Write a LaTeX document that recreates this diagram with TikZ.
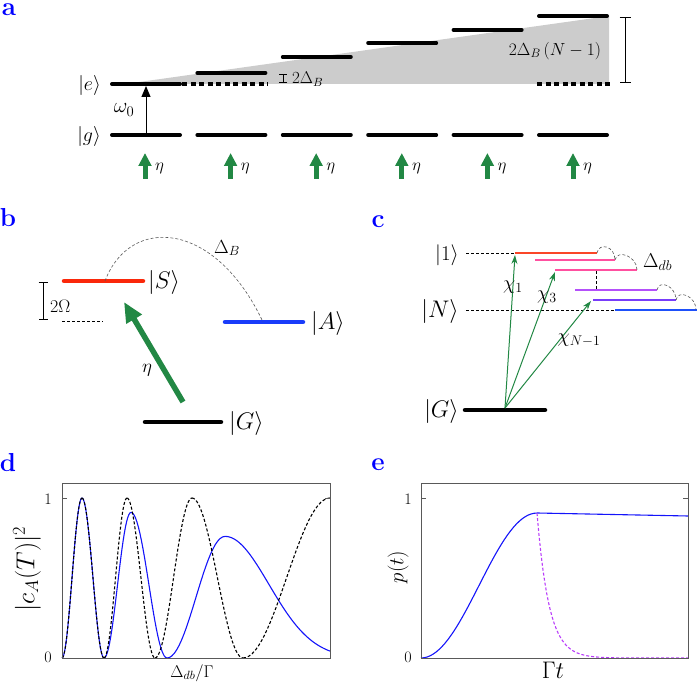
\RequirePackage{fix-cm}
\documentclass[tikz,border=0pt]{standalone}
\usepackage{amsmath}
\usepackage{xcolor}
\usetikzlibrary{arrows.meta}

\definecolor{pgreen}{RGB}{34,136,68}
\definecolor{sred}{RGB}{250,40,10}
\definecolor{sblue}{RGB}{25,60,250}
\definecolor{cone}{RGB}{250,70,40}
\definecolor{cpink}{RGB}{255,80,160}
\definecolor{cviol}{RGB}{180,80,250}
\definecolor{cblvi}{RGB}{120,60,250}
\definecolor{cblue}{RGB}{30,80,250}
\definecolor{cpurp}{RGB}{185,60,250}
\definecolor{pblue}{RGB}{20,20,250}

\newcommand{\fsz}[1]{\fontsize{#1}{#1}\selectfont}

\begin{document}
\begin{tikzpicture}[x=1pt, y=-1pt,
  panel/.style={text=blue, inner sep=0pt, font=\fsz{26}\bfseries},
  lab/.style={inner sep=0pt},
  lev/.style={line width=4pt, line cap=round},
  dlev/.style={line width=3.6pt, dash pattern=on 5pt off 3.5pt},
  blev/.style={line width=4.5pt, line cap=round},
  tlev/.style={line width=1.8pt},
  guide/.style={line width=0.8pt, dash pattern=on 3pt off 2pt},
  arcd/.style={draw=black!65, line width=0.6pt, dash pattern=on 3pt off 2pt},
  span/.style={{Bar[width=#1]}-{Bar[width=#1]}, line width=0.9pt},
  pump/.style={draw=pgreen, line width=5pt, -{Triangle[length=13pt,width=12.5pt]}},
  bigpump/.style={draw=pgreen, line width=5.5pt, -{Triangle[length=20pt,width=17pt]}},
  chi/.style={draw=pgreen, line width=1pt, -{Stealth[length=9pt,width=6pt]}},
  frame/.style={draw=black!65, line width=0.8pt},
  curve/.style={pblue, line width=1.1pt},
  dcurve/.style={black, line width=1.1pt, dash pattern=on 3pt off 2pt}
]
  \useasboundingbox (0,0) rectangle (697,684);

  % ---------------- a ----------------
  \node[panel] (pa) at (9,10) {a};
  \fill[black!20] (125,84) -- (609,16) -- (609,84) -- cycle;

  \foreach \i/\y in {0/84,1/73,2/57,3/43,4/30,5/16} {
    \draw[lev] ({112+\i*85.4},135) -- ++(68,0);
    \draw[lev] ({112+\i*85.4},\y) -- ++(68,0);
  }
  \draw[dlev] (182,84) -- (268,84);
  \draw[dlev] (537,84) -- (610,84);

  % pumping arrows
  \foreach \i in {0,...,5} {
    \draw[pump] ({145+\i*85.6},179) -- ++(0,-26);
    \node[lab, font=\fsz{17}, anchor=base west] (eta\i) at ({155+\i*85.6},171) {$\eta$};
  }

  \coordinate (g0) at (146,135);
  \coordinate (e0) at (146,86);
  \draw[line width=1pt, -{Triangle[length=11pt,width=9pt]}] (g0) -- (e0);
  \node[lab, font=\fsz{21}] (om) at (124,110) {$\omega_0$};
  \node[lab, font=\fsz{20}, anchor=east] (ke) at (101,86) {$|e\rangle$};
  \node[lab, font=\fsz{20}, anchor=east] (kg) at (101,137) {$|g\rangle$};

  \draw[span=8pt] (283,74) -- (283,83);
  \node[lab, font=\fsz{17}, anchor=west] (db1) at (292,79) {$2\Delta_B$};
  \draw[span=11pt] (625,17) -- (625,83);
  \node[lab, font=\fsz{17.5}] (dbn) at (555,51) {$2\Delta_B\,(N-1)$};

  % ---------------- b ----------------
  \node[panel] (pb) at (8,218) {b};
  \draw[blev, sred] (64,281) -- (143,281);
  \draw[blev, sblue] (225,322) -- (303,322);
  \draw[blev] (145,422) -- (221,422);
  \draw[guide] (62,321) -- (103,321);
  \draw[span=9pt] (43,282) -- (43,320);
  \node[lab, font=\fsz{18}, anchor=west] (om2) at (50,306) {$2\Omega$};
  \node[lab, font=\fsz{24}, anchor=west] (kS) at (148,283) {$|S\rangle$};
  \node[lab, font=\fsz{24}, anchor=west] (kA) at (311,324) {$|A\rangle$};
  \node[lab, font=\fsz{24}, anchor=west] (kGb) at (229,424) {$|G\rangle$};

  \coordinate (gb) at (183,402);
  \coordinate (sb) at (124,302);
  \draw[bigpump] (gb) -- (sb);
  \node[lab, font=\fsz{19}] (etab) at (147,370) {$\eta$};

  \draw[arcd] (105,281) .. controls (130,215) and (215,220) .. (263,322);
  \node[lab, font=\fsz{19}] (dB) at (227,248) {$\Delta_B$};

  % ---------------- c ----------------
  \node[panel] (pc) at (378,222) {c};
  \draw[guide] (466,253) -- (515,253);
  \draw[guide] (466,310) -- (615,310);
  \draw[tlev, cone] (515,253) -- (597,253);
  \draw[tlev, cpink] (535,260) -- (615,260);
  \draw[tlev, cpink] (555,270) -- (637,270);
  \draw[tlev, cviol] (575,290) -- (657,290);
  \draw[tlev, cblvi] (593,300) -- (676,300);
  \draw[tlev, cblue] (615,310) -- (697,310);
  \draw[guide] (596,271) -- (596,289);

  \foreach \xa/\ya/\xb/\yb in {597/253/615/260, 615/260/637/270, 657/290/676/300, 676/300/696/310}
    \draw[arcd] (\xa,\ya) .. controls +(2,-11) and +(0,-14) .. (\xb,\yb);
  \node[lab, font=\fsz{20}, anchor=west] (ddb) at (643,262) {$\Delta_{db}$};

  \draw[blev] (465,410) -- (545,410);
  \node[lab, font=\fsz{21}, anchor=east] (k1) at (459,255) {$|1\rangle$};
  \node[lab, font=\fsz{24}, anchor=east] (kN) at (459,312) {$|N\rangle$};
  \node[lab, font=\fsz{24}, anchor=east] (kGc) at (459,412) {$|G\rangle$};

  \coordinate (gc) at (505,408);
  \coordinate (t1) at (515,255);
  \coordinate (t3) at (555,272);
  \coordinate (tn) at (591,301);
  \draw[chi] (gc) -- (t1);
  \draw[chi] (gc) -- (t3);
  \draw[chi] (gc) -- (tn);
  \node[lab, font=\fsz{20}] (x1) at (513,287) {$\chi_1$};
  \node[lab, font=\fsz{20}] (x3) at (547,297) {$\chi_3$};
  \node[lab, font=\fsz{20}] (xn) at (579,340) {$\chi_{N-1}$};

  % ---------------- d ----------------
  \node[panel] (pd) at (8,463) {d};
  \foreach \xa/\xb/\ya/\yb in {62/82/0/1, 82/104/1/0, 104/131/0/0.91, 131/167/0.91/0, 167/225/0/0.76}
    \draw[curve] plot[domain=0:1, samples=25]
      ({\xa+(\xb-\xa)*\x}, {658-160*(\ya+(\yb-\ya)*(1-cos(180*\x))/2)});
  \draw[curve] plot[domain=225:330, samples=50] (\x, {658-160*0.76*exp(-((\x-225)/62)^2)});
  \foreach \xa/\xb/\ya/\yb in {62/82/0/1, 82/104/1/0, 104/127/0/1, 127/155/1/0, 155/192/0/1, 192/243/1/0, 243/330/0/1}
    \draw[dcurve] plot[domain=0:1, samples=30]
      ({\xa+(\xb-\xa)*\x}, {658-160*(\ya+(\yb-\ya)*(1-cos(180*\x))/2)});
  \draw[frame] (62,483) rectangle (330,658);
  \draw[frame] (62,498) -- ++(5,0) (330,498) -- ++(-5,0);
  \node[lab, font=\fsz{16}] (d1) at (48,499) {1};
  \node[lab, font=\fsz{16}] (d0) at (48,657) {0};
  \node[lab, font=\fsz{26}, rotate=90] (dy) at (27,569) {$|c_A(T)|^2$};
  \node[lab, font=\fsz{17}] (dx) at (192,673) {$\Delta_{db}/\Gamma$};

  % ---------------- e ----------------
  \node[panel] (pe) at (378,465) {e};
  \draw[curve] plot[domain=0:1, samples=40]
    ({421+116*\x}, {658-160*0.906*(1-cos(180*\x))/2});
  \draw[curve] (537,513) -- (688,516);
  \draw[cpurp, line width=1.1pt, dash pattern=on 3pt off 2pt]
    plot[domain=537:688, samples=80] (\x, {658-160*0.906*exp(-(\x-537)/12)});
  \draw[frame] (421,483) rectangle (688,658);
  \draw[frame] (421,498) -- ++(5,0) (688,498) -- ++(-5,0);
  \node[lab, font=\fsz{16}] (e1) at (408,499) {1};
  \node[lab, font=\fsz{16}] (e0) at (408,657) {0};
  \node[lab, font=\fsz{21}, rotate=90] (ey) at (398,567) {$p(t)$};
  \node[lab, font=\fsz{24}] (ex) at (553,670) {$\Gamma t$};
\end{tikzpicture}
\end{document}
